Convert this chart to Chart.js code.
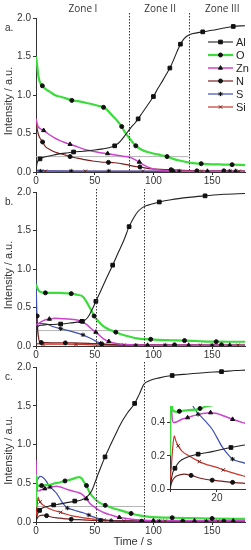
<!DOCTYPE html>
<html>
<head>
<meta charset="utf-8">
<script src="https://cdn.jsdelivr.net/npm/chart.js@4"></script>
<style>
body { margin: 0; background: #fff; width: 251px; height: 550px; position: relative; overflow: hidden; }
canvas { position: absolute; }
</style>
</head>
<body>
<canvas id="ca" width="251" height="186" style="left:0;top:0"></canvas>
<canvas id="cb" width="251" height="178" style="left:0;top:182px"></canvas>
<canvas id="cc" width="251" height="193" style="left:0;top:357px"></canvas>
<canvas id="ci" width="103" height="107" style="left:148px;top:398px"></canvas>
<script>
const elements = ['Al', 'O', 'Zn', 'N', 'S', 'Si'];
const timeTicks = [0, 50, 100, 150];
const intensityTicks = [0, 0.5, 1.0, 1.5, 2.0];
const insetTimeTicks = [0, 20];
const insetIntensityTicks = [0, 0.2, 0.4];
const zoneNames = ['Zone I', 'Zone II', 'Zone III'];
const zoneLabelTimes = [40, 105.7, 158.6];
const zonesA = [79, 130];
const zonesB = [51, 92];
const zonesC = [51, 92];
const refLevel = 0.2;

// panel a
const aAl = [[0,0],[0.7,0.1],[1.5,0.14],[3.4,0.17],[6,0.19],[10,0.205],[15,0.22],[20,0.235],[25,0.245],[32,0.26],[40,0.27],[50,0.285],[57,0.3],[62,0.315],[66,0.335],[69,0.36],[72,0.4],[75,0.46],[78,0.52],[81,0.58],[84,0.63],[87,0.69],[91,0.78],[96,0.89],[100,0.98],[104,1.09],[108,1.19],[111,1.27],[114,1.35],[117,1.45],[120,1.56],[123,1.66],[126,1.73],[129,1.77],[133,1.795],[142,1.82],[150,1.84],[160,1.87],[168,1.89],[178,1.9]];
const aO = [[0,1.5],[0.5,1.45],[1,1.38],[2,1.25],[3,1.18],[5.4,1.12],[8,1.08],[12,1.04],[16,1.0],[20,0.98],[25,0.96],[30.5,0.93],[36,0.92],[42,0.9],[48,0.88],[53,0.86],[57.5,0.84],[61,0.8],[64,0.75],[67,0.7],[70,0.65],[73,0.59],[76,0.51],[79,0.45],[82,0.39],[85,0.34],[90,0.29],[95,0.26],[100,0.24],[106,0.22],[111.6,0.2],[117,0.17],[122,0.15],[128,0.13],[134,0.115],[140.7,0.108],[150,0.1],[160,0.097],[167,0.095],[178,0.09]];
const aZn = [[0,0.69],[0.5,0.66],[1.5,0.6],[3,0.57],[6.5,0.54],[10,0.5],[15,0.45],[20,0.41],[25,0.38],[29,0.36],[35,0.33],[40,0.3],[45,0.28],[50,0.265],[55,0.25],[61,0.24],[66,0.225],[72,0.21],[77,0.2],[80,0.19],[83,0.17],[86,0.145],[88,0.13],[92,0.09],[96,0.06],[100,0.04],[105,0.025],[112,0.015],[125,0.01],[178,0.008]];
const aN = [[0,0.7],[0.5,0.62],[1.5,0.52],[3,0.45],[5.6,0.39],[8,0.33],[12,0.29],[16,0.26],[20,0.24],[25,0.22],[29,0.2],[35,0.18],[40,0.165],[45,0.15],[50,0.14],[55,0.13],[61.7,0.125],[67,0.12],[72,0.11],[76,0.1],[80,0.085],[84,0.072],[88.5,0.065],[95,0.048],[102,0.037],[110,0.031],[115,0.03],[125,0.02],[140,0.015],[178,0.012]];
const aS = [[0,0.03],[2,0.02],[10,0.014],[60,0.012],[178,0.01]];
const aSi = [[0,0.012],[40,0.01],[178,0.008]];
const aAlMk = [[3.4,0.17],[32,0.26],[67,0.34],[87,0.69],[100,0.98],[114,1.35],[123,1.66],[142,1.82],[168,1.89]];
const aOMk = [[5.4,1.12],[30.5,0.93],[57.5,0.84],[73,0.59],[85,0.34],[111.6,0.2],[140.7,0.108],[167,0.095]];
const aZnMk = [[6.5,0.54],[29,0.36],[61,0.24],[88,0.13],[117,0.012],[146,0.01],[170,0.01]];
const aNMk = [[5.6,0.39],[29,0.2],[61.7,0.125],[88.5,0.065],[115,0.03],[137,0.015],[160,0.015]];
const aSMk = [[4,0.012],[30,0.012],[62,0.012],[122,0.012],[165,0.012]];
const aSiMk = [[8,0.01],[42,0.01],[91,0.01],[141,0.01],[173,0.01]];

// panel b
const bAl = [[0,0],[0.5,0.15],[1,0.22],[2,0.26],[5,0.27],[10,0.28],[15,0.28],[21,0.285],[30,0.3],[35,0.31],[39.5,0.32],[42,0.34],[44,0.37],[46,0.42],[48,0.48],[51,0.58],[55,0.71],[60,0.88],[65.3,1.05],[70,1.21],[75,1.38],[79.3,1.55],[83,1.66],[87,1.75],[92,1.81],[98,1.84],[105,1.87],[115,1.9],[130,1.93],[144,1.95],[160,1.97],[178,1.98]];
const bO = [[0,0.8],[0.5,0.78],[1.5,0.74],[3,0.71],[8,0.69],[14,0.69],[20,0.69],[25,0.685],[30,0.68],[35,0.665],[39,0.65],[42,0.6],[45,0.52],[47.5,0.45],[49.5,0.39],[52,0.34],[55,0.29],[59,0.24],[63,0.21],[68,0.18],[73,0.15],[80,0.12],[86,0.1],[92,0.09],[97.7,0.087],[105,0.08],[115,0.075],[126.5,0.07],[140,0.062],[153.5,0.056],[165,0.055],[178,0.055]];
const bZn = [[0,0.27],[1,0.28],[4,0.31],[8,0.34],[11.4,0.35],[16,0.36],[22,0.355],[28,0.35],[34,0.34],[38,0.32],[42,0.29],[46,0.24],[49,0.2],[51,0.18],[54,0.14],[57,0.1],[61,0.065],[66,0.04],[72,0.025],[80,0.015],[100,0.01],[178,0.008]];
const bN = [[0,0.4],[0.7,0.39],[1.5,0.2],[2.5,0.08],[3.5,0.05],[6,0.045],[15,0.04],[30,0.04],[45,0.035],[56,0.025],[65,0.02],[80,0.015],[178,0.012]];
const bS = [[0,0.86],[0.3,0.7],[0.7,0.45],[1,0.32],[1.5,0.29],[3,0.29],[6,0.29],[10,0.28],[15,0.25],[21,0.225],[30,0.19],[40,0.145],[45,0.11],[50,0.07],[53,0.045],[55,0.035],[60,0.02],[70,0.012],[178,0.008]];
const bSi = [[0,0.03],[10,0.025],[40,0.02],[60,0.01],[178,0.01]];
const bAlMk = [[21,0.285],[39.5,0.32],[51,0.58],[65.3,1.05],[79.3,1.55],[105,1.87],[144,1.95]];
const bOMk = [[8,0.69],[30,0.68],[49.5,0.39],[68,0.18],[97.7,0.087],[126.5,0.07],[153.5,0.056]];
const bZnMk = [[11.4,0.35],[38,0.32],[51,0.18],[62,0.06],[95,0.01],[130,0.01],[165,0.01]];
const bNMk = [[1,0.39],[4.5,0.045],[25,0.04],[56,0.025],[118,0.015],[158,0.015]];
const bSMk = [[21,0.225],[40,0.145],[55,0.035],[85,0.01],[110,0.01],[150,0.01]];
const bSiMk = [[6,0.02],[34,0.02],[75,0.01],[140,0.01],[172,0.01]];

// panel c
const cAl = [[0,0],[0.5,0.05],[1,0.09],[2.1,0.125],[4,0.165],[7,0.19],[12,0.21],[18,0.225],[26,0.25],[32,0.265],[38,0.28],[42,0.31],[45,0.35],[48,0.42],[50,0.5],[52,0.58],[55,0.7],[58.8,0.84],[63,0.98],[68,1.14],[73,1.29],[78,1.41],[84,1.53],[88,1.65],[92,1.78],[96,1.82],[105,1.86],[116,1.89],[130,1.91],[145,1.93],[158,1.94],[170,1.955],[178,1.96]];
const cO = [[0,0.2],[0.3,0.6],[0.8,0.5],[1.5,0.47],[3,0.465],[4.8,0.47],[8,0.475],[12,0.48],[16,0.5],[20,0.51],[24.7,0.53],[30,0.55],[34,0.57],[36.7,0.58],[39,0.56],[41,0.51],[43,0.47],[45,0.4],[47,0.35],[50,0.3],[54,0.25],[59,0.215],[65,0.18],[72,0.15],[81,0.11],[88,0.085],[95,0.07],[105,0.06],[116,0.055],[130,0.05],[150,0.045],[178,0.04]];
const cZn = [[0,0.8],[0.3,0.6],[0.8,0.45],[1.4,0.4],[3,0.405],[5,0.42],[7.5,0.43],[11,0.445],[14,0.455],[17.3,0.46],[20,0.455],[23,0.44],[26.7,0.42],[31,0.4],[35,0.385],[39,0.36],[43,0.3],[46,0.24],[50,0.19],[54,0.15],[58,0.12],[64,0.09],[71,0.06],[80,0.04],[90,0.025],[100,0.018],[178,0.015]];
const cN = [[0,0],[0.5,0.03],[1,0.05],[2,0.07],[3,0.08],[6,0.09],[9,0.082],[13,0.065],[18,0.053],[22,0.047],[26.7,0.04],[31,0.035],[40,0.028],[50,0.02],[60,0.015],[178,0.01]];
const cS = [[0,0.5],[0.5,0.52],[1.5,0.55],[3.4,0.59],[5,0.585],[7,0.56],[9,0.52],[10.6,0.48],[13,0.44],[15,0.41],[18,0.36],[22,0.26],[24,0.22],[26.7,0.18],[31,0.16],[35,0.14],[40,0.12],[45,0.09],[50,0.06],[55,0.04],[60,0.025],[70,0.015],[178,0.01]];
const cSi = [[0,0.05],[0.5,0.12],[1,0.22],[1.8,0.32],[2.5,0.29],[3.5,0.26],[5,0.23],[8,0.2],[12.5,0.165],[16,0.145],[20,0.13],[22.7,0.115],[26,0.1],[31,0.08],[36,0.065],[42,0.05],[48,0.04],[55,0.03],[60,0.02],[70,0.012],[178,0.01]];
const cAlMk = [[3,0.15],[15,0.22],[33,0.27],[58.8,0.84],[84,1.53],[116,1.89],[158,1.94]];
const cOMk = [[4.8,0.47],[24.7,0.53],[43,0.47],[59,0.215],[81,0.11],[116,0.055],[150,0.045]];
const cZnMk = [[7.5,0.43],[43,0.3],[71,0.06],[100,0.018],[135,0.015],[168,0.015]];
const cNMk = [[9,0.082],[30,0.035],[55,0.018],[90,0.01],[125,0.01],[160,0.01]];
const cSMk = [[12,0.45],[26.7,0.18],[45,0.09],[64,0.02],[105,0.01],[145,0.01]];
const cSiMk = [[3.5,0.26],[21,0.125],[58,0.025],[75,0.012],[110,0.01],[155,0.01]];

// inset of panel c (same lines, own symbols)
const iAlMk = [[2.1,0.125],[12,0.21],[26,0.25]];
const iOMk = [[4,0.468],[12.8,0.485]];
const iZnMk = [[7.5,0.43],[17.3,0.46],[26.7,0.42]];
const iNMk = [[9,0.082],[18,0.053],[26.7,0.04]];
const iSMk = [[12,0.45],[26.7,0.18]];
const iSiMk = [[3.5,0.26],[12.5,0.165],[22.7,0.115]];

const styles = {
  Al: { color: '#222222', shape: 'rect', r: 2.6, width: 1.1, mk: '#111' },
  O: { color: '#3cdc3c', shape: 'circle', r: 2.0, width: 2.2, mk: '#111' },
  Zn: { color: '#cc44cc', shape: 'triangle', r: 2.4, width: 1.5, mk: '#111' },
  N: { color: '#7a1f1f', shape: 'circle', r: 2.0, width: 1.2, mk: '#111' },
  S: { color: '#3e4fb5', shape: 'star', r: 2.2, width: 1.2, mk: '#111' },
  Si: { color: '#c8352a', shape: 'crossRot', r: 2.4, width: 1.2, mk: '#6a2520' }
};

const P = arr => arr.map(([x, y]) => ({ x, y }));

function makeSets(lines, marks, refEnd) {
  const sets = [];
  if (refEnd) {
    sets.push({ data: P([[0, refLevel], [refEnd, refLevel]]), borderColor: '#b4b4b4', borderWidth: 1, showLine: true, pointRadius: 0, order: 9 });
  }
  elements.forEach((el, i) => {
    const st = styles[el];
    sets.push({ label: el, data: P(lines[el]), borderColor: st.color, borderWidth: st.width, showLine: true,
      pointRadius: 0, cubicInterpolationMode: 'monotone', order: 2 + i });
    sets.push({ data: P(marks[el]), pointStyle: st.shape, pointRadius: st.r, backgroundColor: '#111',
      borderColor: st.mk, borderWidth: 1, showLine: false, order: 0 });
  });
  return sets;
}

const tickFont = { family: 'Liberation Sans', size: 10 };

function decor(cfg) {
  return {
    id: 'decor',
    beforeDraw(chart) {
      if (!cfg.bg) return;
      const c = chart.ctx;
      c.save();
      c.fillStyle = '#fff';
      c.fillRect(0, 0, chart.width, chart.height);
      c.restore();
    },
    afterDatasetsDraw(chart) {
      const c = chart.ctx, x = chart.scales.x, a = chart.chartArea;
      c.save();
      c.strokeStyle = '#333';
      c.lineWidth = 1;
      c.setLineDash([1.5, 1.5]);
      (cfg.zones || []).forEach(t => {
        const px = Math.round(x.getPixelForValue(t)) + 0.5;
        c.beginPath();
        c.moveTo(px, a.top - (cfg.zoneTop || 3));
        c.lineTo(px, a.bottom);
        c.stroke();
      });
      c.restore();
    },
    afterDraw(chart) {
      const c = chart.ctx, x = chart.scales.x, a = chart.chartArea;
      c.save();
      c.fillStyle = '#333';
      if (cfg.zoneLabels) {
        c.font = '10px "Open Sans"';
        c.textAlign = 'center';
        c.textBaseline = 'middle';
        zoneNames.forEach((n, i) => c.fillText(n, x.getPixelForValue(zoneLabelTimes[i]), 9));
      }
      if (cfg.letter) {
        c.font = '10px "Liberation Sans"';
        c.textAlign = 'left';
        c.textBaseline = 'middle';
        c.fillText(cfg.letter, 5, a.top + 10);
      }
      if (cfg.ytitle) {
        c.save();
        c.font = '11px "Liberation Sans"';
        c.textAlign = 'center';
        c.textBaseline = 'middle';
        c.translate(9, (a.top + a.bottom) / 2 + 6);
        c.rotate(-Math.PI / 2);
        c.fillText('Intensity / a.u.', 0, 0);
        c.restore();
      }
      if (cfg.xtitle) {
        c.font = '11px "Liberation Sans"';
        c.textAlign = 'center';
        c.textBaseline = 'middle';
        c.fillText('Time / s', 133, chart.height - 8);
      }
      if (cfg.legend) {
        elements.forEach((el, i) => {
          const st = styles[el];
          const y = 42 + i * 13;
          c.strokeStyle = st.color;
          c.lineWidth = st.width;
          c.beginPath();
          c.moveTo(208, y);
          c.lineTo(233, y);
          c.stroke();
          c.fillStyle = '#111';
          c.strokeStyle = st.mk;
          c.lineWidth = 1;
          Chart.helpers.drawPoint(c, { pointStyle: st.shape, radius: st.r, borderWidth: 1 }, 220.5, y);
          c.fillStyle = '#222';
          c.font = '11px "Liberation Sans"';
          c.textAlign = 'left';
          c.textBaseline = 'middle';
          c.fillText(el, 236, y + 0.5);
        });
      }
      c.restore();
    }
  };
}

function axes(o) {
  return {
    x: {
      type: 'linear', min: o.xmin, max: o.xmax,
      afterBuildTicks: s => { s.ticks = o.xticks.map(v => ({ value: v })); },
      afterFit: s => { s.height = o.xh; },
      border: { display: true, color: '#333', width: 1 },
      grid: { drawOnChartArea: false, tickLength: 3, color: '#333' },
      ticks: { font: tickFont, color: '#333', padding: 0, maxRotation: 0,
        callback: v => (o.hideZero && v === 0) ? '' : String(v) }
    },
    y: {
      type: 'linear', min: o.ymin, max: o.ymax,
      afterBuildTicks: s => { s.ticks = o.yticks.map(v => ({ value: v })); },
      afterFit: s => { s.width = o.yw; },
      border: { display: true, color: '#333', width: 1 },
      grid: { drawOnChartArea: false, tickLength: 3, color: '#333' },
      ticks: { font: tickFont, color: '#333', padding: 2, callback: v => v.toFixed(1) }
    }
  };
}

function panel(id, sets, o, deco) {
  new Chart(document.getElementById(id), {
    type: 'scatter',
    data: { datasets: sets },
    options: {
      responsive: false,
      animation: false,
      devicePixelRatio: 1,
      layout: { padding: { left: 0, right: o.right, top: o.top, bottom: 0 } },
      scales: axes(o),
      plugins: { legend: { display: false }, tooltip: { enabled: false } }
    },
    plugins: [decor(deco)]
  });
}

const mainAxes = { xmin: 0, xmax: 178, ymin: 0, ymax: 2, xticks: timeTicks, yticks: intensityTicks, yw: 36, right: 6 };

panel('ca',
  makeSets({ Al: aAl, O: aO, Zn: aZn, N: aN, S: aS, Si: aSi },
           { Al: aAlMk, O: aOMk, Zn: aZnMk, N: aNMk, S: aSMk, Si: aSiMk }, zonesA[1]),
  Object.assign({}, mainAxes, { top: 18, xh: 14 }),
  { zones: zonesA, zoneTop: 5, zoneLabels: true, letter: 'a.', ytitle: true, legend: true });

panel('cb',
  makeSets({ Al: bAl, O: bO, Zn: bZn, N: bN, S: bS, Si: bSi },
           { Al: bAlMk, O: bOMk, Zn: bZnMk, N: bNMk, S: bSMk, Si: bSiMk }, zonesB[1]),
  Object.assign({}, mainAxes, { top: 10, xh: 14 }),
  { zones: zonesB, zoneTop: 3, letter: 'b.', ytitle: true });

panel('cc',
  makeSets({ Al: cAl, O: cO, Zn: cZn, N: cN, S: cS, Si: cSi },
           { Al: cAlMk, O: cOMk, Zn: cZnMk, N: cNMk, S: cSMk, Si: cSiMk }, zonesC[1]),
  Object.assign({}, mainAxes, { top: 10, xh: 28 }),
  { zones: zonesC, zoneTop: 5, letter: 'c.', ytitle: true, xtitle: true });

panel('ci',
  makeSets({ Al: cAl, O: cO, Zn: cZn, N: cN, S: cS, Si: cSi },
           { Al: iAlMk, O: iOMk, Zn: iZnMk, N: iNMk, S: iSMk, Si: iSiMk }, 0),
  { xmin: 0, xmax: 32, ymin: 0, ymax: 0.5, xticks: insetTimeTicks, yticks: insetIntensityTicks,
    yw: 22, xh: 16, right: 6, top: 7, hideZero: true },
  { bg: true });
</script>
</body>
</html>
